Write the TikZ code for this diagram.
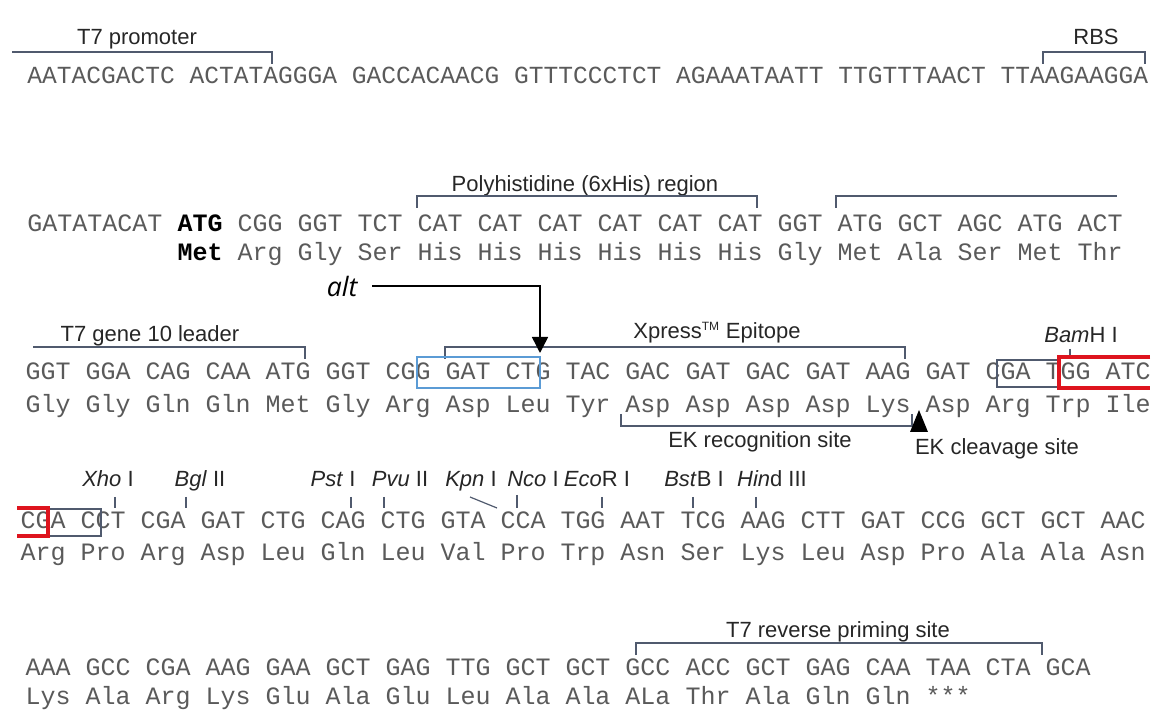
\documentclass[tikz,border=0pt]{standalone}
\usepackage{fontspec}
\setmainfont{Liberation Sans}
\setmonofont{Liberation Mono}
\newfontfamily\altfont{Open Sans}
\usetikzlibrary{arrows.meta}

\definecolor{seqgrey}{RGB}{90,90,90}
\definecolor{brkgrey}{RGB}{80,90,110}
\definecolor{boxblue}{RGB}{91,155,213}
\definecolor{boxred}{RGB}{222,20,30}

\tikzset{every picture/.style={line width=0.75pt}}
\tikzset{
  seq/.style={anchor=base west, inner sep=0pt, text=seqgrey, font=\fontsize{18.75}{20}\ttfamily},
  seqone/.style={seq, font=\fontsize{18.43}{20}\ttfamily},
  lbl/.style={anchor=base, inner sep=0.75pt, text=black!85, font=\fontsize{16.5}{18}\selectfont},
  brk/.style={draw=brkgrey, line width=1.1pt},
  site/.style={draw=brkgrey, line width=0.9pt},
}
\newcommand{\hl}[1]{{\bfseries\color{black}#1}}

\begin{document}
\begin{tikzpicture}[x=0.75pt,y=0.75pt,yscale=-1,xscale=1]
\path (0,0) rectangle (1161,716); %set diagram size as the reference

% Sequence rows
\node [seqone] (dna1) at (27,84) {AATACGACTC ACTATAGGGA GACCACAACG GTTTCCCTCT AGAAATAATT TTGTTTAACT TTAAGAAGGA};
\node [seq] (dna2) at (27,232) {GATATACAT \hl{ATG} CGG GGT TCT CAT CAT CAT CAT CAT CAT GGT ATG GCT AGC ATG ACT};
\node [seq] (aa2) at (177,261) {\hl{Met} Arg Gly Ser His His His His His His Gly Met Ala Ser Met Thr};
\node [seq] (dna3) at (25,380) {GGT GGA CAG CAA ATG GGT CGG GAT CTG TAC GAC GAT GAC GAT AAG GAT CGA TGG ATC};
\node [seq] (aa3) at (25,413) {Gly Gly Gln Gln Met Gly Arg Asp Leu Tyr Asp Asp Asp Asp Lys Asp Arg Trp Ile};
\node [seq] (dna4) at (20,529) {CGA CCT CGA GAT CTG CAG CTG GTA CCA TGG AAT TCG AAG CTT GAT CCG GCT GCT AAC};
\node [seq] (aa4) at (20,561) {Arg Pro Arg Asp Leu Gln Leu Val Pro Trp Asn Ser Lys Leu Asp Pro Ala Ala Asn};
\node [seq] (dna5) at (25,675) {AAA GCC CGA AAG GAA GCT GAG TTG GCT GCT GCC ACC GCT GAG CAA TAA CTA GCA};
\node [seq] (aa5) at (25,704) {Lys Ala Arg Lys Glu Ala Glu Leu Ala Ala ALa Thr Ala Gln Gln ***};

% Text Node
\node [lbl] (promoter) at (137,45) {T7 promoter};
\node [lbl] (rbs) at (1096,45) {RBS};
\node [lbl] (polyhis) at (585,192) {Polyhistidine (6xHis) region};
\node [lbl] (leader) at (150,342) {T7 gene 10 leader};
\node [lbl] (xpress) at (717,339) {Xpress\textsuperscript{\fontsize{9}{9}\selectfont TM} Epitope};
\node [lbl] (bamh) at (1081,343) {\textit{Bam}H I};
\node [lbl] (ekrec) at (760,448) {EK recognition site};
\node [lbl] (ekcut) at (997,455) {EK cleavage site};
\node [lbl] (reverse) at (838,638) {T7 reverse priming site};
\node [anchor=east, inner sep=0pt, font=\altfont\itshape\fontsize{20}{21}\selectfont] (alt) at (358,287) {alt};

% Restriction sites
\node [lbl] (xho) at (108,487) {\textit{Xho} I};
\node [lbl] (bgl) at (200,487) {\textit{Bgl} II};
\node [lbl] (pst) at (333,487) {\textit{Pst} I};
\node [lbl] (pvu) at (400,487) {\textit{Pvu} II};
\node [lbl] (kpn) at (471,487) {\textit{Kpn} I};
\node [lbl] (nco) at (533,487) {\textit{Nco} I};
\node [lbl] (eco) at (597,487) {\textit{Eco}R I};
\node [lbl] (bstb) at (694,487) {\textit{Bst}B I};
\node [lbl] (hind) at (772,487) {\textit{Hin}d III};

%Straight Lines
\draw [brk] (12,52) -- (272,52) -- (272,64) ;
\draw [brk] (1043,64) -- (1043,52) -- (1145,52) -- (1145,64) ;
\draw [brk] (417,208) -- (417,196) -- (757,196) -- (757,208) ;
\draw [brk] (836,208) -- (836,196) -- (1117,196) ;
\draw [brk] (33,347) -- (305,347) -- (305,359) ;
\draw [brk] (445,359) -- (445,347) -- (905,347) -- (905,359) ;
\draw [brk] (621,414) -- (621,426) -- (912,426) -- (912,414) ;
\draw [brk] (636,655) -- (636,643) -- (1042,643) -- (1042,655) ;
\draw [site] (1070,349) -- (1070,357) ;

% site ticks
\draw [site] (115,497) -- (115,508) ;
\draw [site] (186,497) -- (186,508) ;
\draw [site] (351,497) -- (351,508) ;
\draw [site] (384,497) -- (384,508) ;
\draw [site] (470,497) -- (497,508) ;
\draw [site] (517,495) -- (517,508) ;
\draw [site] (602,497) -- (602,508) ;
\draw [site] (693,497) -- (693,508) ;
\draw [site] (756,497) -- (756,508) ;

% alt arrow
\coordinate (alttip) at (540,353) ;
\draw [line width=1.1pt, -{Triangle[length=12pt,width=12pt]}] (372,286) -| (alttip) ;

% EK cleavage mark
\fill (910,432) -- (928,432) -- (919,410) -- cycle ;

%Shape: Rectangle
\draw [boxblue, line width=1.6pt] (417,357) rectangle (540,388) ;
\draw [brkgrey, line width=1.1pt] (1059,360) -- (997,360) -- (997,387) -- (1059,387) ;
\draw [boxred, line width=2.4pt] (1150,357) -- (1059,357) -- (1059,388) -- (1150,388) ;
\draw [brkgrey, line width=1.1pt] (48,509) -- (101,509) -- (101,536) -- (48,536) ;
\draw [boxred, line width=2.4pt] (17,508) -- (48,508) -- (48,536) -- (17,536) ;

\end{tikzpicture}
\end{document}
